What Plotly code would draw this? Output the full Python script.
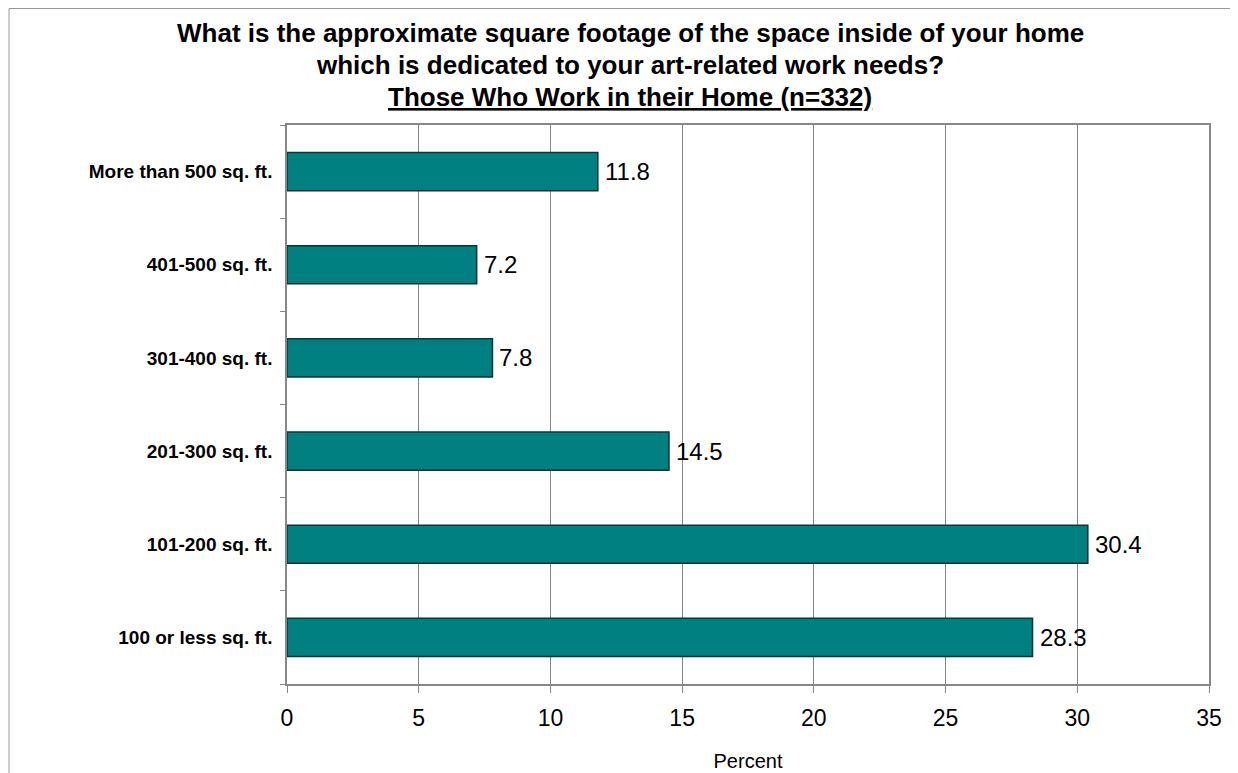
import plotly.graph_objects as go

categories = ["100 or less sq. ft.", "101-200 sq. ft.", "201-300 sq. ft.",
              "301-400 sq. ft.", "401-500 sq. ft.", "More than 500 sq. ft."]
values = [28.3, 30.4, 14.5, 7.8, 7.2, 11.8]
x_ticks = [0, 5, 10, 15, 20, 25, 30, 35]
title_lines = [
    "What is the approximate square footage of the space inside of your home",
    "which is dedicated to your art-related work needs?",
    "<u>Those Who Work in their Home (n=332)</u>",
]

# page body has an 8px margin; figure sized to fit the window
OFF = 8
W, H = 1230, 765
L, R, T, B = 287 - OFF, 29, 125 - OFF, 89
PW, PH = W - L - R, H - T - B
FONT = "Liberation Sans, Arial"

fig = go.Figure()
fig.add_trace(go.Bar(
    y=categories, x=values, orientation="h",
    marker=dict(color="#008080", line=dict(color="#123434", width=1.5)),
    width=0.41,
))

annotations = []
for c, v in zip(categories, values):
    annotations.append(dict(x=v, y=c, xref="x", yref="y", text=f"{v:.1f}",
                            showarrow=False, xanchor="left", xshift=5,
                            font=dict(family=FONT, size=24, color="black")))
for i, line in enumerate(title_lines):
    annotations.append(dict(x=(630 - 287) / PW, xref="paper", xanchor="center",
                            y=1 + (125 - (33 + 32 * i)) / PH, yref="paper", yanchor="middle",
                            text=f"<b>{line}</b>", showarrow=False,
                            font=dict(family=FONT, size=26, color="black")))

fig.update_layout(
    width=W, height=H,
    paper_bgcolor="white", plot_bgcolor="white",
    margin=dict(l=L, r=R, t=T, b=B, autoexpand=False),
    showlegend=False,
    annotations=annotations,
    xaxis=dict(
        range=[0, 35], tickvals=x_ticks,
        showgrid=True, gridcolor="#888888", gridwidth=1,
        showline=True, linecolor="#888888", linewidth=1.5, mirror=True,
        ticks="outside", ticklen=7, tickcolor="#888888",
        ticklabelstandoff=6,
        tickfont=dict(family=FONT, size=23, color="black"),
        title=dict(text="Percent", font=dict(family=FONT, size=20, color="black"), standoff=24),
        zeroline=False,
    ),
    yaxis=dict(
        showline=True, linecolor="#888888", linewidth=1.5, mirror=True,
        ticks="outside", ticklen=5, tickcolor="#888888",
        tickson="boundaries",
        tickfont=dict(family=FONT, size=19, color="black", weight="bold"),
        ticklabelstandoff=9,
        showgrid=False,
    ),
    shapes=[dict(type="rect", xref="paper", yref="paper",
                 x0=-(L - 1) / PW, x1=(1234 - 287) / PW,
                 y0=-(B + 20) / PH, y1=1 + (T - 0.5) / PH,
                 line=dict(color="#999999", width=1), layer="below")],
)

fig.write_html("out.html")
